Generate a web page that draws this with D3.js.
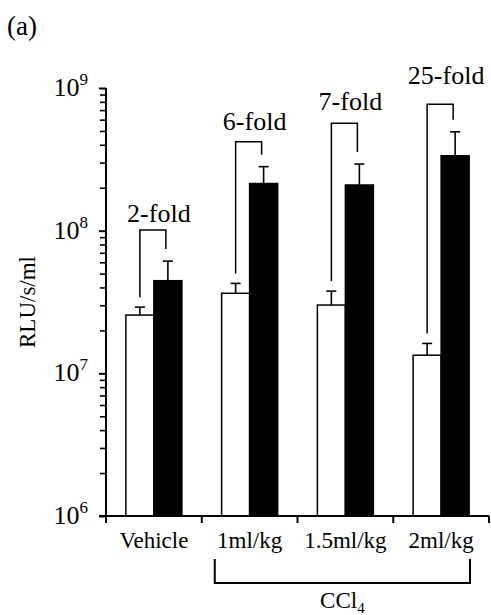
<!DOCTYPE html>
<html>
<head>
<meta charset="utf-8">
<script src="https://cdn.jsdelivr.net/npm/d3@7"></script>
<style>
  body { margin: 0; background: #fff; }
</style>
</head>
<body>
<div id="chart"></div>
<script>
// values
var categories = ["Vehicle", "1ml/kg", "1.5ml/kg", "2ml/kg"];
var whiteVals = [2.56e7, 3.64e7, 3.01e7, 1.34e7];
var whiteErr = [0.35e7, 0.63e7, 0.76e7, 0.28e7];
var blackVals = [4.46e7, 2.14e8, 2.09e8, 3.35e8];
var blackErr = [1.66e7, 0.67e8, 0.84e8, 1.58e8];
var foldLabels = ["2-fold", "6-fold", "7-fold", "25-fold"];
var bracketLevel = [1.01e8, 4.2e8, 5.65e8, 7.7e8];
var foldLabelLevel = [1.15e8, 5.1e8, 7.0e8, 1.06e9];
var yTickExp = [6, 7, 8, 9];

var FONT = "Liberation Serif";

var svgWidth = 491;
var svgHeight = 615;

var margin = { top: 88, right: 2, bottom: 99, left: 106 };
var width = svgWidth - margin.left - margin.right;
var height = svgHeight - margin.top - margin.bottom;

var svg = d3.select("#chart")
    .append("svg")
    .attr("width", svgWidth)
    .attr("height", svgHeight)
    .attr("font-family", FONT);

var chartGroup = svg.append("g")
    .attr("transform", `translate(${margin.left}, ${margin.top})`);

var xScale = d3.scaleBand()
    .domain(categories)
    .range([0, width]);

var yScale = d3.scaleLog()
    .domain([1e6, 1e9])
    .range([height, 0]);

var barW = 28;
var data = categories.map(function(c, i) {
    return { cat: c, white: whiteVals[i], wErr: whiteErr[i], black: blackVals[i], bErr: blackErr[i],
             fold: foldLabels[i], level: bracketLevel[i], labelLevel: foldLabelLevel[i] };
});

function centre(d) { return xScale(d.cat) + xScale.bandwidth() / 2; }

// error bars (upper only)
data.forEach(function(d) {
    [[centre(d) - barW / 2, d.white + d.wErr, d.white], [centre(d) + barW / 2, d.black + d.bErr, d.black]]
      .forEach(function(e) {
        chartGroup.append("line")
            .attr("x1", e[0]).attr("x2", e[0])
            .attr("y1", yScale(e[1])).attr("y2", yScale(e[2]))
            .attr("stroke", "#000").attr("stroke-width", 1.6);
        chartGroup.append("line")
            .attr("x1", e[0] - 5).attr("x2", e[0] + 5)
            .attr("y1", yScale(e[1])).attr("y2", yScale(e[1]))
            .attr("stroke", "#000").attr("stroke-width", 1.6);
      });
});

// white bars
chartGroup.selectAll(".wbar")
    .data(data)
    .enter()
    .append("rect")
    .attr("class", "wbar")
    .attr("x", d => centre(d) - barW)
    .attr("y", d => yScale(d.white))
    .attr("width", barW)
    .attr("height", d => height - yScale(d.white))
    .attr("fill", "#fff")
    .attr("stroke", "#000")
    .attr("stroke-width", 1.5);

// black bars
chartGroup.selectAll(".bbar")
    .data(data)
    .enter()
    .append("rect")
    .attr("class", "bbar")
    .attr("x", d => centre(d))
    .attr("y", d => yScale(d.black))
    .attr("width", barW)
    .attr("height", d => height - yScale(d.black))
    .attr("fill", "#000")
    .attr("stroke", "#000")
    .attr("stroke-width", 1.5);

// fold brackets
data.forEach(function(d) {
    var xl = centre(d) - barW / 2;
    var xr = centre(d) + barW / 2 - 2;
    var yt = yScale(d.level);
    chartGroup.append("path")
        .attr("d", `M${xl},${yScale(d.white + d.wErr) - 10}V${yt}H${xr}V${yScale(d.black + d.bErr) - 12}`)
        .attr("fill", "none")
        .attr("stroke", "#000")
        .attr("stroke-width", 1.5);
    chartGroup.append("text")
        .attr("x", centre(d) + 5)
        .attr("y", yScale(d.labelLevel))
        .attr("text-anchor", "middle")
        .attr("font-family", FONT)
        .attr("font-size", 26)
        .text(d.fold);
});

// y axis with log minor ticks
var majorTicks = yTickExp.map(e => Math.pow(10, e));
var minorTicks = [];
yTickExp.slice(0, -1).forEach(function(e) {
    for (var k = 2; k <= 9; k++) minorTicks.push(k * Math.pow(10, e));
});

var yAxis = chartGroup.append("g")
    .call(d3.axisLeft(yScale).tickValues(majorTicks).tickSize(7).tickFormat(""));
yAxis.select(".domain").attr("stroke-width", 2).attr("d", `M0,${height}V0`);
yAxis.selectAll(".tick line").attr("stroke-width", 2);

var yMinor = chartGroup.append("g")
    .call(d3.axisLeft(yScale).tickValues(minorTicks).tickSize(6).tickFormat(""));
yMinor.select(".domain").remove();
yMinor.selectAll(".tick line").attr("stroke-width", 1.6);

yTickExp.forEach(function(e) {
    var t = chartGroup.append("text")
        .attr("x", -18)
        .attr("y", yScale(Math.pow(10, e)) + 8)
        .attr("text-anchor", "end")
        .attr("font-family", FONT)
        .attr("font-size", 26);
    t.append("tspan").text("10");
    t.append("tspan").attr("dy", -11).attr("font-size", 17).text(e);
});

// x axis, ticks at band edges
var xAxis = chartGroup.append("g")
    .attr("transform", `translate(0, ${height})`);
xAxis.append("line")
    .attr("x1", -7).attr("x2", width)
    .attr("stroke", "#000").attr("stroke-width", 2);
var edges = categories.map(c => xScale(c)).concat([width]);
xAxis.selectAll(".edge")
    .data(edges)
    .enter()
    .append("line")
    .attr("class", "edge")
    .attr("x1", d => d).attr("x2", d => d)
    .attr("y1", 0).attr("y2", 7)
    .attr("stroke", "#000").attr("stroke-width", 2);
xAxis.selectAll(".catLabel")
    .data(categories)
    .enter()
    .append("text")
    .attr("class", "catLabel")
    .attr("x", d => xScale(d) + xScale.bandwidth() / 2)
    .attr("y", 32)
    .attr("text-anchor", "middle")
    .attr("font-family", FONT)
    .attr("font-size", 23)
    .text(d => d);

// CCl4 bracket under the three dose groups
var bx1 = xScale(categories[1]) + 13;
var bx2 = width - 19;
xAxis.append("path")
    .attr("d", `M${bx1},43V67H${bx2}V43`)
    .attr("fill", "none")
    .attr("stroke", "#000")
    .attr("stroke-width", 2);
var ccl = xAxis.append("text")
    .attr("x", (bx1 + bx2) / 2)
    .attr("y", 92)
    .attr("text-anchor", "middle")
    .attr("font-family", FONT)
    .attr("font-size", 23);
ccl.append("tspan").text("CCl");
ccl.append("tspan").attr("dy", 5).attr("font-size", 15).text("4");

// y axis title
chartGroup.append("text")
    .attr("transform", "rotate(-90)")
    .attr("x", -height / 2)
    .attr("y", -margin.left + 35)
    .attr("text-anchor", "middle")
    .attr("font-family", FONT)
    .attr("font-size", 23)
    .text("RLU/s/ml");

// panel letter
svg.append("text")
    .attr("x", 7)
    .attr("y", 35)
    .attr("font-family", FONT)
    .attr("font-size", 27)
    .text("(a)");
</script>
</body>
</html>
